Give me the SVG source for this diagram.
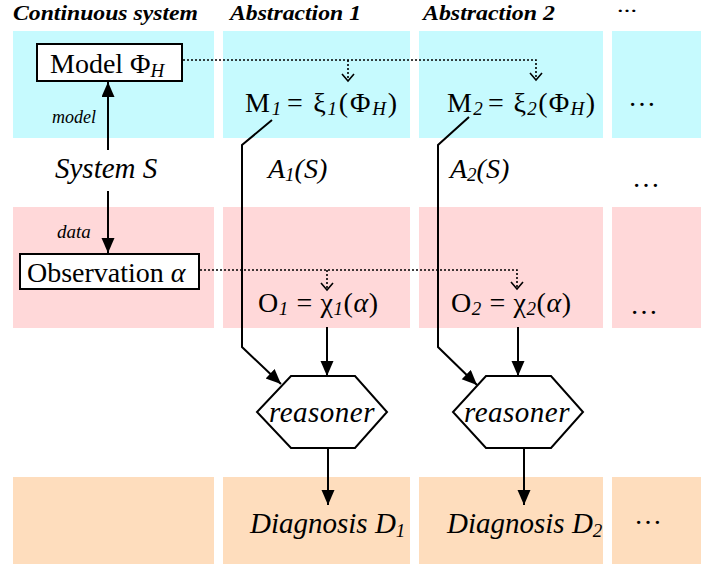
<svg xmlns="http://www.w3.org/2000/svg" width="719" height="566" viewBox="0 0 719 566" font-family="'Liberation Serif', Tinos, 'Times New Roman', 'DejaVu Serif', serif">
<style>
.cy{fill:#C6FAFE}.pk{fill:#FFD8D9}.or{fill:#FEDDBD}
text{font-family:'Liberation Serif',Tinos,'Times New Roman','DejaVu Serif',serif;fill:#000}
.t{font-size:28px}.it{font-style:italic}
.hd{font-size:22px;font-weight:bold;font-style:italic}
.sub{font-size:19px;font-style:italic}
.ln{fill:none;stroke:#000;stroke-width:2}
.dot{fill:none;stroke:#000;stroke-width:1.6;stroke-dasharray:2 2}
.vh{fill:none;stroke:#000;stroke-width:1.6}
.box{fill:#fff;stroke:#000;stroke-width:2}
</style>
<defs>
<marker id="ah" markerUnits="userSpaceOnUse" markerWidth="16" markerHeight="14" refX="15" refY="6.5" orient="auto">
<path d="M0,0 L15,6.5 L0,13 z" fill="#000"/>
</marker>
</defs>
<g id="background">
<rect class="cy" x="13" y="31" width="201" height="107"/>
<rect class="cy" x="223" y="31" width="187" height="107"/>
<rect class="cy" x="419" y="31" width="184" height="107"/>
<rect class="cy" x="612" y="31" width="89" height="107"/>
<rect class="pk" x="13" y="207" width="201" height="121"/>
<rect class="pk" x="223" y="207" width="187" height="121"/>
<rect class="pk" x="419" y="207" width="184" height="121"/>
<rect class="pk" x="612" y="207" width="89" height="121"/>
<rect class="or" x="13" y="477" width="201" height="87"/>
<rect class="or" x="223" y="477" width="187" height="87"/>
<rect class="or" x="419" y="477" width="184" height="87"/>
<rect class="or" x="612" y="477" width="89" height="87"/>
</g>
<g id="headers">
<text class="hd" x="13" y="20" textLength="185" lengthAdjust="spacingAndGlyphs">Continuous system</text>
<text class="hd" x="230" y="20" textLength="131" lengthAdjust="spacingAndGlyphs">Abstraction 1</text>
<text class="hd" x="423" y="20" textLength="132" lengthAdjust="spacingAndGlyphs">Abstraction 2</text>
<text x="617" y="12" style="font-size:14px;font-weight:bold" textLength="20" lengthAdjust="spacingAndGlyphs">…</text>
</g>
<g id="connectors">
<line class="ln" x1="108" y1="150" x2="108" y2="82" marker-end="url(#ah)"/>
<line class="ln" x1="108" y1="191" x2="108" y2="253" marker-end="url(#ah)"/>
<path class="dot" d="M183,60 H536 V80 M348,60 V81"/>
<polyline class="vh" points="342,74 348,81 354,74"/>
<polyline class="vh" points="530,73 536,80 542,73"/>
<path class="dot" d="M200,270 H517 V289 M327,270 V290"/>
<polyline class="vh" points="321,283 327,290 333,283"/>
<polyline class="vh" points="511,282 517,289 523,282"/>
<polyline class="ln" points="272,120 242,145 242,347 281,384" marker-end="url(#ah)"/>
<polyline class="ln" points="469,117 438,145 438,347 477,385" marker-end="url(#ah)"/>
<line class="ln" x1="327" y1="327" x2="327" y2="376" marker-end="url(#ah)"/>
<line class="ln" x1="518" y1="327" x2="518" y2="376" marker-end="url(#ah)"/>
<line class="ln" x1="328" y1="448" x2="328" y2="505" marker-end="url(#ah)"/>
<line class="ln" x1="524" y1="448" x2="524" y2="505" marker-end="url(#ah)"/>
</g>
<g id="model">
<rect class="box" x="37" y="44" width="145" height="37"/>
<text class="t" x="50" y="73">Model Φ<tspan class="sub" dy="4">H</tspan></text>
</g>
<g id="model-label"><text class="it" x="52" y="123" style="font-size:18px">model</text></g>
<g id="system"><text class="t it" x="55" y="178" style="font-size:29px">System S</text></g>
<g id="data-label"><text class="it" x="57" y="238" style="font-size:19px">data</text></g>
<g id="observation">
<rect class="box" x="20" y="254" width="179" height="35"/>
<text class="t" x="27" y="282">Observation <tspan class="it">α</tspan></text>
</g>
<g id="m1"><text class="t" x="245" y="112" textLength="152" lengthAdjust="spacing">M<tspan class="sub" dy="3">1</tspan><tspan dy="-3" dx="4">= ξ</tspan><tspan class="sub" dy="3">1</tspan><tspan dy="-3">(Φ</tspan><tspan class="sub" dy="3">H</tspan><tspan dy="-3">)</tspan></text></g>
<g id="m2"><text class="t" x="447" y="112" textLength="148" lengthAdjust="spacing">M<tspan class="sub" dy="3">2</tspan><tspan dy="-3" dx="4">= ξ</tspan><tspan class="sub" dy="3">2</tspan><tspan dy="-3">(Φ</tspan><tspan class="sub" dy="3">H</tspan><tspan dy="-3">)</tspan></text></g>
<g id="a1"><text class="t it" x="268" y="178">A<tspan class="sub" dy="3">1</tspan><tspan dy="-3">(S)</tspan></text></g>
<g id="a2"><text class="t it" x="450" y="178">A<tspan class="sub" dy="3">2</tspan><tspan dy="-3">(S)</tspan></text></g>
<g id="o1"><text class="t" x="258" y="312" textLength="120" lengthAdjust="spacing">O<tspan class="sub" dy="3">1</tspan><tspan dy="-3"> = χ</tspan><tspan class="sub" dy="3">1</tspan><tspan dy="-3">(</tspan><tspan class="it">α</tspan>)</text></g>
<g id="o2"><text class="t" x="451" y="312" textLength="120" lengthAdjust="spacing">O<tspan class="sub" dy="3">2</tspan><tspan dy="-3"> = χ</tspan><tspan class="sub" dy="3">2</tspan><tspan dy="-3">(</tspan><tspan class="it">α</tspan>)</text></g>
<g id="reasoner1">
<polygon class="box" points="291,376 355,376 387,412 355,448 291,448 257,412"/>
<text class="t it" x="322" y="422" text-anchor="middle" style="font-size:29px;letter-spacing:0.5px">reasoner</text>
</g>
<g id="reasoner2">
<polygon class="box" points="486,376 551,376 583,412 551,448 486,448 453,412"/>
<text class="t it" x="517" y="422" text-anchor="middle" style="font-size:29px;letter-spacing:0.5px">reasoner</text>
</g>
<g id="d1"><text class="t it" x="250" y="533" style="font-size:29px">Diagnosis D<tspan class="sub" dy="4">1</tspan></text></g>
<g id="d2"><text class="t it" x="447" y="533" style="font-size:29px">Diagnosis D<tspan class="sub" dy="4">2</tspan></text></g>
<g id="ellipses">
<text class="t" x="628" y="106">…</text>
<text class="t" x="632" y="187">…</text>
<text class="t" x="630" y="314">…</text>
<text class="t" x="634" y="524">…</text>
</g>
</svg>
